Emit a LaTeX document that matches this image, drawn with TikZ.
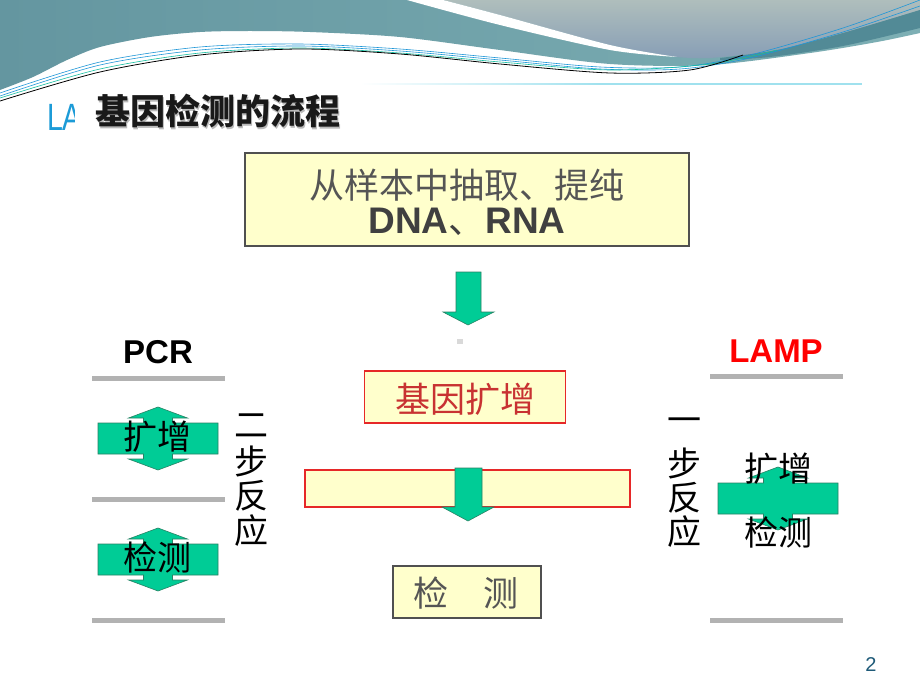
\documentclass[tikz,border=0pt]{standalone}
\usepackage{fontspec}
\setmainfont{Liberation Sans}
\newfontfamily\cjk{Noto Sans CJK SC}
\definecolor{tealA}{RGB}{100,150,160}
\definecolor{tealB}{RGB}{125,175,180}
\definecolor{greyA}{RGB}{175,190,188}
\definecolor{greyB}{RGB}{135,158,182}
\definecolor{tealDark}{RGB}{82,138,150}
\definecolor{lineBlue}{RGB}{30,150,215}
\definecolor{lineGreen}{RGB}{20,190,160}
\definecolor{agreen}{RGB}{0,204,150}
\definecolor{aedge}{RGB}{40,130,100}
\definecolor{byellow}{RGB}{255,255,204}
\definecolor{bgray}{RGB}{80,80,80}
\definecolor{tgray}{RGB}{85,85,85}
\definecolor{bred}{RGB}{230,40,40}
\definecolor{tred}{RGB}{200,50,50}
\definecolor{barc}{RGB}{178,178,178}
\definecolor{lablue}{RGB}{28,155,215}
\definecolor{pgnum}{RGB}{30,90,120}
\definecolor{cyanline}{RGB}{160,225,238}
\tikzset{
  garrow/.style={fill=agreen, draw=aedge, line width=0.6pt, line join=miter},
  ybox/.style={draw=bgray, fill=byellow, line width=1.8pt, inner sep=0pt},
  rbox/.style={draw=bred, fill=byellow, line width=1.6pt, inner sep=0pt},
  txt/.style={inner sep=0pt, outer sep=0pt},
  graybar/.style={fill=barc},
  wave/.style={line width=0.6pt},
  crossarrow/.pic={
    \draw[garrow] (0,-31.5) -- (29.5,-20.5) -- (14.5,-20.5) -- (14.5,-15.5) -- (60,-15.5) -- (60,15.5) -- (14.5,15.5) -- (14.5,20.5) -- (29.5,20.5) -- (0,31.5) -- (-29.5,20.5) -- (-14.5,20.5) -- (-14.5,15.5) -- (-60,15.5) -- (-60,-15.5) -- (-14.5,-15.5) -- (-14.5,-20.5) -- (-29.5,-20.5) -- cycle;
  }
}
\newcommand\fsz[1]{\fontsize{#1}{#1}\selectfont}
\begin{document}
\begin{tikzpicture}[x=1pt,y=-1pt]
\useasboundingbox (0,0) rectangle (920,690);
\fill[white] (0,0) rectangle (920,690);
% header waves
\shade[left color=tealA, right color=tealB] (0,0) -- (920,0) -- plot[smooth] coordinates {(920,33) (877,42) (810,53) (710,65) (610,64) (500,50) (400,37) (310,32) (250,31) (200,32) (150,37) (100,47) (67,60) (33,77) (0,90)} -- cycle;
\shade[top color=greyA, bottom color=greyB] plot[smooth] coordinates {(443,0) (500,15) (610,45) (677,57)} -- plot[smooth] coordinates {(677,57) (710,58) (777,50) (843,33) (920,10)} -- (920,0) -- cycle;
\fill[tealDark] plot[smooth] coordinates {(720,58) (777,50) (843,33) (920,10)} -- (920,28) -- plot[smooth] coordinates {(920,28) (843,46) (770,57) (720,60)} -- cycle;
\fill[white] plot[smooth] coordinates {(407,0) (500,25) (610,50) (677,57)} -- plot[smooth] coordinates {(677,57) (610,45) (500,15) (443,0)} -- cycle;
\draw[lineBlue, wave] plot[smooth] coordinates {(0,93) (100,62) (200,47) (300,44) (400,49) (500,58) (600,67) (680,67) (750,55) (843,28) (920,0)};
\draw[lineBlue, wave] plot[smooth] coordinates {(0,96) (100,65) (200,50) (300,46) (400,51) (500,60) (600,69) (680,69) (750,58) (843,32) (920,6)};
\draw[lineGreen, wave] plot[smooth] coordinates {(0,98) (100,69) (200,53) (300,48) (400,53) (500,62) (610,70) (710,64) (777,50)};
\draw[black, line width=0.8pt] plot[smooth] coordinates {(0,101) (100,72) (200,55) (300,49) (400,54) (500,64) (610,73) (690,70) (743,55)};
% LA text and panel
\node[txt, anchor=base west, text=lablue, xscale=0.75] (la) at (47,130) {\fsz{38}LA};
\fill[white] (75,85) rectangle (862,624);
\shade[left color=white, right color=cyanline] (360,83.3) rectangle (600,85);
\fill[cyanline] (600,83.3) rectangle (862,85);
% title
\node[txt, anchor=west, text=gray!55] (titleshadow) at (96.5,112.5) {\cjk\bfseries\fsz{35}基因检测的流程};
\node[txt, anchor=west, text=black!90] (title) at (95,111) {\cjk\bfseries\fsz{35}基因检测的流程};
% box 1
\node[ybox, minimum width=444pt, minimum height=93pt] (box1) at (467,199.5) {};
\node[txt, text=tgray] (line1) at (467,185) {\cjk\fsz{35}从样本中抽取、提纯};
\node[txt, text=black!75, anchor=base] (line2) at (467,233) {\fsz{37}\bfseries DNA\cjk\mdseries 、\rmfamily\bfseries RNA};
% arrow 1
\draw[garrow] (456,272) -- (481,272) -- (481,312) -- (494,312) -- (468,325) -- (443,312) -- (456,312) -- cycle;
\fill[gray!30] (457,339) rectangle (463,344);
% box 2
\node[rbox, minimum width=201pt, minimum height=52pt] (box2) at (465,397) {};
\node[txt, text=tred] (t2) at (465,399) {\cjk\fsz{35}基因扩增};
% box 3
\node[rbox, minimum width=325pt, minimum height=37pt] (box3) at (467.5,488.5) {};
\draw[garrow] (455,468) -- (482,468) -- (482,507) -- (494,507) -- (468,521) -- (442,507) -- (455,507) -- cycle;
% box 4
\node[ybox, minimum width=148pt, minimum height=52pt] (box4) at (467,592) {};
\node[txt, text=tgray] (t4) at (466,593) {\cjk\fsz{35}检　测};
% PCR side
\node[txt, anchor=base] (pcr) at (158,363) {\fsz{33}\bfseries PCR};
\fill[graybar] (92,376) rectangle (225,381);
\fill[graybar] (92,497) rectangle (225,502);
\fill[graybar] (92,618) rectangle (225,623);
\pic at (158,438.5) {crossarrow};
\pic at (158,559.5) {crossarrow};
\node[txt] (pk) at (157,437) {\cjk\fsz{34}扩增};
\node[txt] (pj) at (157,557) {\cjk\fsz{34}检测};
\node[txt] (l1) at (251,426) {\cjk\fsz{34}二};
\node[txt] (l2) at (251,461) {\cjk\fsz{34}步};
\node[txt] (l3) at (251,496) {\cjk\fsz{34}反};
\node[txt] (l4) at (251,531) {\cjk\fsz{34}应};
% LAMP side
\node[txt, anchor=base, text=red] (lamp) at (776,362) {\fsz{33}\bfseries LAMP};
\fill[graybar] (710,374) rectangle (843,379);
\fill[graybar] (710,618) rectangle (843,623);
\pic at (778,498.5) {crossarrow};
\node[txt] (rk) at (778,469) {\cjk\fsz{34}扩增};
\node[txt] (rj) at (778,532) {\cjk\fsz{34}检测};
\node[txt] (r1) at (684,425) {\cjk\fsz{34}一};
\node[txt] (r2) at (684,463) {\cjk\fsz{34}步};
\node[txt] (r3) at (684,498) {\cjk\fsz{34}反};
\node[txt] (r4) at (684,532) {\cjk\fsz{34}应};
% page number
\node[txt, text=pgnum] (pg) at (871,665) {\fsz{20}2};
\end{tikzpicture}
\end{document}
